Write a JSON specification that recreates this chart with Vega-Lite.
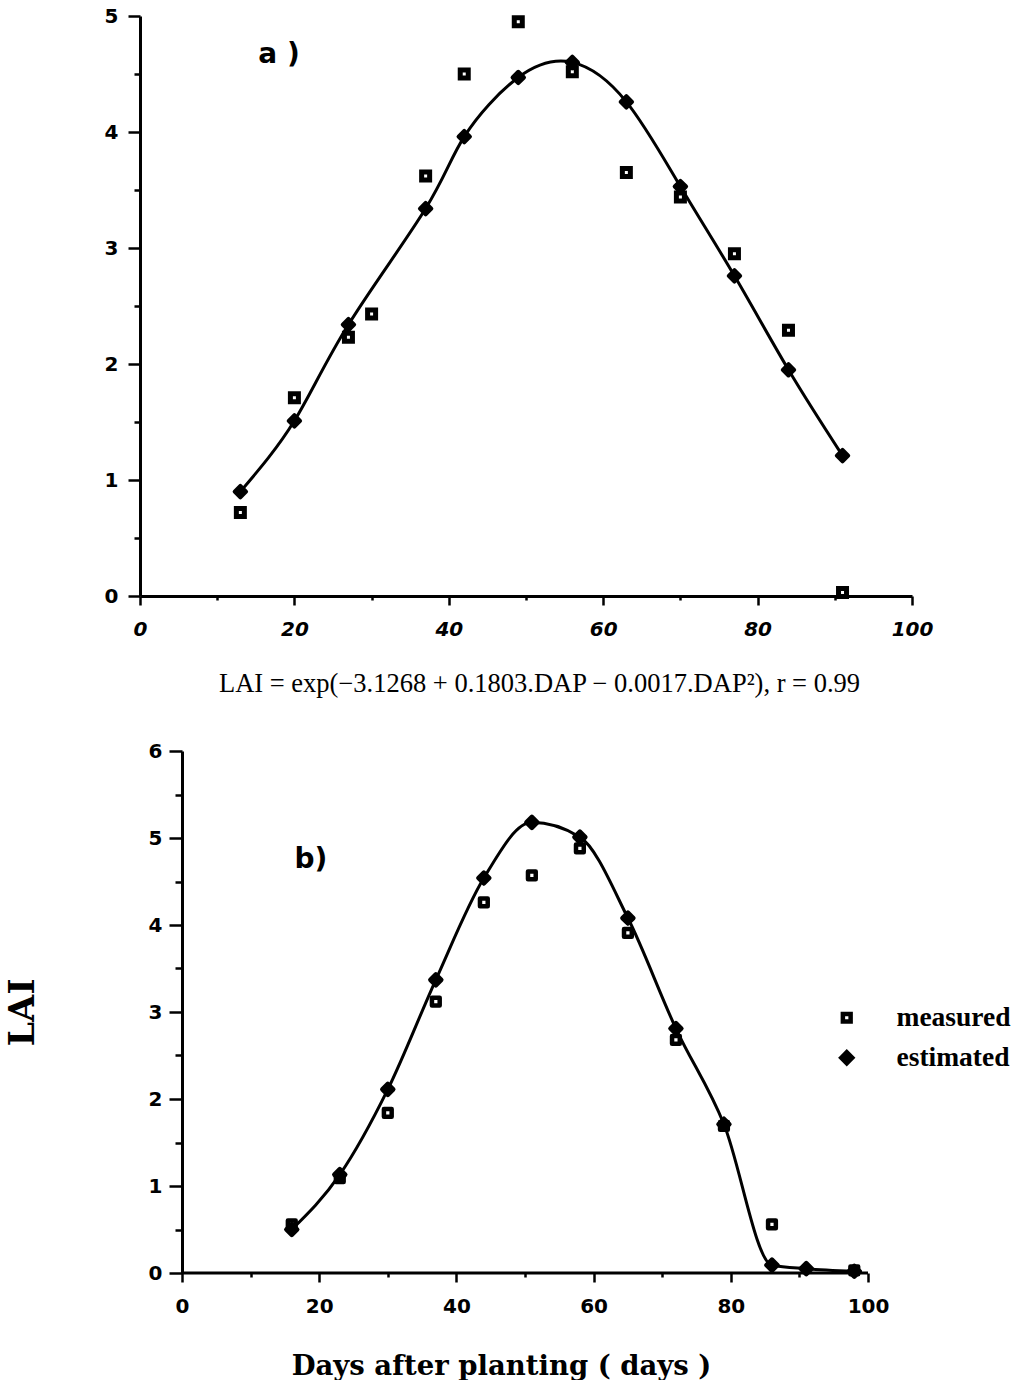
{
  "$schema": "https://vega.github.io/schema/vega-lite/v6.json",
  "background": "white",
  "padding": {"left": 5, "top": 6, "right": 0, "bottom": 0},
  "config": {
    "view": {"stroke": null},
    "axis": {
      "grid": false,
      "domainColor": "black",
      "domainWidth": 3,
      "tickColor": "black",
      "tickWidth": 2.5,
      "labelColor": "black",
      "labelFont": "DejaVu Sans",
      "labelFontWeight": "bold",
      "labelFontSize": 20,
      "labelFlush": false,
      "labelOverlap": false,
      "titleColor": "black"
    }
  },
  "datasets": {
    "a": [
      {"day": 13, "lai": 0.72, "type": "measured"},
      {"day": 20, "lai": 1.71, "type": "measured"},
      {"day": 27, "lai": 2.23, "type": "measured"},
      {"day": 30, "lai": 2.43, "type": "measured"},
      {"day": 37, "lai": 3.62, "type": "measured"},
      {"day": 42, "lai": 4.5, "type": "measured"},
      {"day": 49, "lai": 4.95, "type": "measured"},
      {"day": 56, "lai": 4.52, "type": "measured"},
      {"day": 63, "lai": 3.65, "type": "measured"},
      {"day": 70, "lai": 3.44, "type": "measured"},
      {"day": 77, "lai": 2.95, "type": "measured"},
      {"day": 84, "lai": 2.29, "type": "measured"},
      {"day": 91, "lai": 0.03, "type": "measured"},
      {"day": 13, "lai": 0.9, "type": "estimated"},
      {"day": 20, "lai": 1.51, "type": "estimated"},
      {"day": 27, "lai": 2.34, "type": "estimated"},
      {"day": 37, "lai": 3.34, "type": "estimated"},
      {"day": 42, "lai": 3.96, "type": "estimated"},
      {"day": 49, "lai": 4.47, "type": "estimated"},
      {"day": 56, "lai": 4.6, "type": "estimated"},
      {"day": 63, "lai": 4.26, "type": "estimated"},
      {"day": 70, "lai": 3.53, "type": "estimated"},
      {"day": 77, "lai": 2.76, "type": "estimated"},
      {"day": 84, "lai": 1.95, "type": "estimated"},
      {"day": 91, "lai": 1.21, "type": "estimated"}
    ],
    "b": [
      {"day": 16, "lai": 0.56, "type": "measured"},
      {"day": 23, "lai": 1.09, "type": "measured"},
      {"day": 30, "lai": 1.84, "type": "measured"},
      {"day": 37, "lai": 3.12, "type": "measured"},
      {"day": 44, "lai": 4.26, "type": "measured"},
      {"day": 51, "lai": 4.57, "type": "measured"},
      {"day": 58, "lai": 4.88, "type": "measured"},
      {"day": 65, "lai": 3.91, "type": "measured"},
      {"day": 72, "lai": 2.68, "type": "measured"},
      {"day": 79, "lai": 1.69, "type": "measured"},
      {"day": 86, "lai": 0.56, "type": "measured"},
      {"day": 98, "lai": 0.03, "type": "measured"},
      {"day": 16, "lai": 0.5, "type": "estimated"},
      {"day": 23, "lai": 1.13, "type": "estimated"},
      {"day": 30, "lai": 2.11, "type": "estimated"},
      {"day": 37, "lai": 3.37, "type": "estimated"},
      {"day": 44, "lai": 4.54, "type": "estimated"},
      {"day": 51, "lai": 5.18, "type": "estimated"},
      {"day": 58, "lai": 5.01, "type": "estimated"},
      {"day": 65, "lai": 4.08, "type": "estimated"},
      {"day": 72, "lai": 2.81, "type": "estimated"},
      {"day": 79, "lai": 1.71, "type": "estimated"},
      {"day": 86, "lai": 0.09, "type": "estimated"},
      {"day": 91, "lai": 0.05, "type": "estimated"},
      {"day": 98, "lai": 0.02, "type": "estimated"}
    ]
  },
  "spacing": 44,
  "resolve": {"scale": {"shape": "independent", "fill": "independent", "size": "independent"}},
  "vconcat": [
    {
      "width": 772,
      "height": 580,
      "layer": [
        {
          "data": {"name": "a"},
          "transform": [{"filter": "datum.type === 'estimated'"}],
          "mark": {"type": "line", "color": "black", "strokeWidth": 3, "interpolate": "natural"},
          "encoding": {
            "x": {
              "field": "day", "type": "quantitative",
              "scale": {"domain": [0, 100]},
              "axis": {
                "values": [0, 10, 20, 30, 40, 50, 60, 70, 80, 90, 100],
                "labelExpr": "datum.value % 20 === 0 ? format(datum.value, 'd') : ''",
                "tickSize": {"condition": {"test": "datum.value % 20 === 0", "value": 9}, "value": 4},
                "labelPadding": 14,
                "labelFontStyle": "italic",
                "title": "LAI = exp(−3.1268 + 0.1803.DAP − 0.0017.DAP²), r = 0.99",
                "titleFont": "Liberation Serif",
                "titleFontSize": 26.5,
                "titleFontWeight": "normal",
                "titlePadding": 31,
                "titleX": 399
              }
            },
            "y": {
              "field": "lai", "type": "quantitative",
              "scale": {"domain": [0, 5]},
              "axis": {
                "values": [0, 0.5, 1, 1.5, 2, 2.5, 3, 3.5, 4, 4.5, 5],
                "labelExpr": "datum.value % 1 === 0 ? format(datum.value, 'd') : ''",
                "tickSize": {"condition": {"test": "datum.value % 1 === 0", "value": 12}, "value": 6},
                "labelPadding": 10,
                "title": null
              }
            }
          }
        },
        {
          "data": {"name": "a"},
          "transform": [{"filter": "datum.type === 'measured'"}],
          "mark": {"type": "point", "shape": "square", "filled": true, "fill": "white", "stroke": "black", "strokeWidth": 5, "size": 64, "opacity": 1},
          "encoding": {
            "x": {"field": "day", "type": "quantitative"},
            "y": {"field": "lai", "type": "quantitative"}
          }
        },
        {
          "data": {"name": "a"},
          "transform": [{"filter": "datum.type === 'estimated'"}],
          "mark": {"type": "point", "shape": "diamond", "filled": true, "fill": "black", "stroke": "black", "strokeWidth": 4, "strokeJoin": "round", "size": 130, "opacity": 1},
          "encoding": {
            "x": {"field": "day", "type": "quantitative"},
            "y": {"field": "lai", "type": "quantitative"}
          }
        },
        {
          "data": {"values": [{}]},
          "mark": {"type": "text", "text": "a )", "font": "DejaVu Sans", "fontWeight": "bold", "fontSize": 28, "color": "black", "align": "center", "baseline": "middle"},
          "encoding": {
            "x": {"datum": 18},
            "y": {"datum": 4.66}
          }
        }
      ]
    },
    {
      "width": 728,
      "height": 522,
      "layer": [
        {
          "data": {"name": "b"},
          "transform": [{"filter": "datum.type === 'estimated'"}],
          "mark": {"type": "line", "color": "black", "strokeWidth": 3, "interpolate": "monotone"},
          "encoding": {
            "x": {
              "field": "day", "type": "quantitative",
              "scale": {"domain": [-6.122, 100], "nice": false, "zero": false},
              "axis": {
                "values": [0, 10, 20, 30, 40, 50, 60, 70, 80, 90, 100],
                "labelExpr": "datum.value % 20 === 0 ? format(datum.value, 'd') : ''",
                "tickSize": {"condition": {"test": "datum.value % 20 === 0", "value": 9}, "value": 4},
                "labelPadding": 14,
                "domain": false,
                "title": "Days after planting ( days )",
                "titleFont": "DejaVu Serif",
                "titleFontSize": 27.5,
                "titleFontWeight": "bold",
                "titlePadding": 36,
                "titleX": 361
              }
            },
            "y": {
              "field": "lai", "type": "quantitative",
              "scale": {"domain": [0, 6]},
              "axis": {
                "values": [0, 0.5, 1, 1.5, 2, 2.5, 3, 3.5, 4, 4.5, 5, 5.5, 6],
                "labelExpr": "datum.value % 1 === 0 ? format(datum.value, 'd') : ''",
                "tickSize": {"condition": {"test": "datum.value % 1 === 0", "value": 13}, "value": 7},
                "labelPadding": 7,
                "offset": -42,
                "title": "LAI",
                "titleFont": "DejaVu Serif",
                "titleFontSize": 35,
                "titleFontWeight": "bold",
                "titlePadding": 108
              }
            }
          }
        },
        {
          "mark": {"type": "rule", "color": "black", "strokeWidth": 3},
          "data": {"values": [{}]},
          "encoding": {
            "x": {"datum": 0},
            "x2": {"datum": 100},
            "y": {"datum": 0}
          }
        },
        {
          "data": {"name": "b"},
          "mark": {"type": "point", "filled": true, "stroke": "black", "strokeWidth": 4.5, "strokeJoin": "round", "opacity": 1},
          "encoding": {
            "x": {"field": "day", "type": "quantitative"},
            "y": {"field": "lai", "type": "quantitative"},
            "shape": {
              "field": "type", "type": "nominal",
              "scale": {"domain": ["measured", "estimated"], "range": ["square", "diamond"]},
              "legend": {
                "title": null,
                "orient": "none",
                "legendX": 693,
                "legendY": 253,
                "labelFont": "Liberation Serif",
                "labelFontSize": 27.5,
                "labelFontWeight": "bold",
                "labelColor": "black",
                "labelOffset": 36,
                "rowPadding": 11,
                "symbolStrokeColor": "black",
                "symbolStrokeWidth": 4.5,
                "symbolOpacity": 1
              }
            },
            "fill": {
              "field": "type", "type": "nominal",
              "scale": {"domain": ["measured", "estimated"], "range": ["white", "black"]}
            },
            "size": {
              "field": "type", "type": "nominal",
              "scale": {"domain": ["measured", "estimated"], "range": [60, 120]}
            }
          }
        },
        {
          "data": {"values": [{}]},
          "mark": {"type": "text", "text": "b)", "font": "DejaVu Sans", "fontWeight": "bold", "fontSize": 28, "color": "black", "align": "center", "baseline": "middle"},
          "encoding": {
            "x": {"datum": 18.8},
            "y": {"datum": 4.75}
          }
        }
      ]
    }
  ]
}
